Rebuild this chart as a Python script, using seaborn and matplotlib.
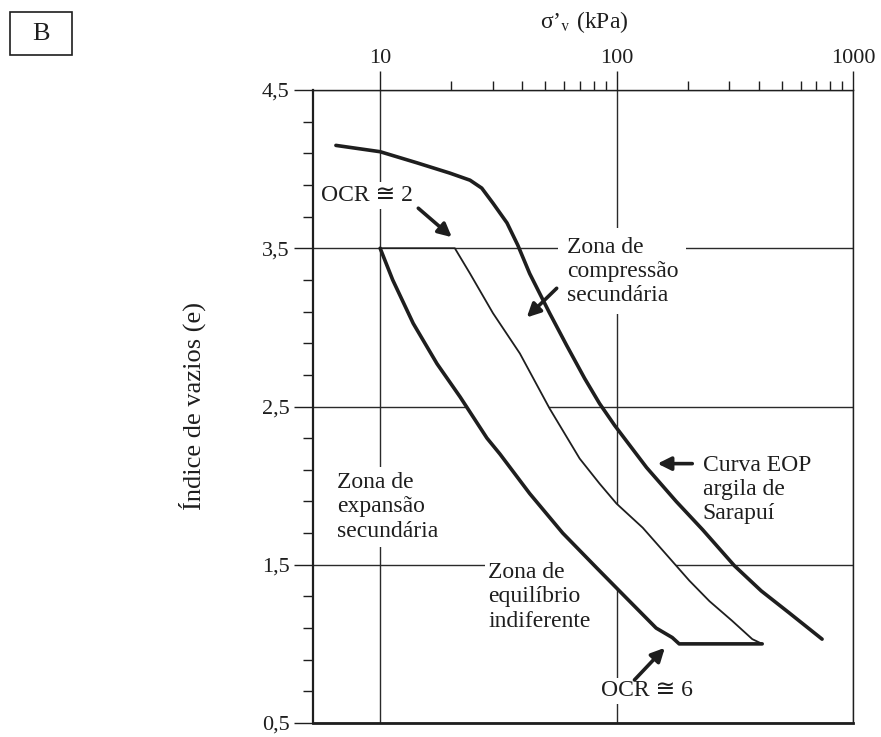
import numpy as np
import pandas as pd
import matplotlib
matplotlib.use("Agg")
import matplotlib.pyplot as plt
import seaborn as sns
from matplotlib.ticker import FixedLocator, NullFormatter
from matplotlib.patches import Rectangle

# ---------------- data ----------------
# EOP curve, Sarapuí clay
eop_sigma = [6.5, 10, 14.3, 19.7, 24.0, 26.9, 30.0, 34.4, 38.2, 42.9, 52.1,
             61.5, 73.3, 84.7, 98.2, 134, 179, 231, 315, 409, 537, 740]
eop_e = [4.15, 4.11, 4.04, 3.975, 3.93, 3.88, 3.785, 3.66, 3.52, 3.34, 3.09,
         2.886, 2.677, 2.519, 2.38, 2.114, 1.899, 1.722, 1.494, 1.335, 1.196, 1.03]

# OCR ~ 2 line (thin)
ocr2_sigma = [10, 20.7, 24.0, 30.0, 39.0, 52.1, 69.8, 84.7, 100, 129, 167, 203, 247, 308, 375, 413]
ocr2_e = [3.5, 3.5, 3.34, 3.09, 2.835, 2.487, 2.171, 2.013, 1.886, 1.734, 1.544, 1.40, 1.27, 1.146, 1.03, 1.0]

# OCR ~ 6 line (thick)
ocr6_sigma = [10, 11.3, 13.8, 17.4, 21.8, 28.3, 32.1, 42.9, 59.2, 82.4, 110, 147, 172, 184, 413]
ocr6_e = [3.5, 3.30, 3.025, 2.77, 2.56, 2.30, 2.20, 1.95, 1.70, 1.48, 1.29, 1.10, 1.04, 1.0, 1.0]

y_major = [0.5, 1.5, 2.5, 3.5, 4.5]
y_major_labels = ["0,5", "1,5", "2,5", "3,5", "4,5"]
y_minor = [0.7, 0.9, 1.1, 1.3, 1.7, 1.9, 2.1, 2.3, 2.7, 2.9, 3.1, 3.3, 3.7, 3.9, 4.1, 4.3]
x_major = [10, 100, 1000]
x_major_labels = ["10", "100", "1000"]
x_minor = [20, 30, 40, 50, 60, 70, 80, 90, 200, 300, 400, 500, 600, 700, 800, 900]

# ---------------- style ----------------
sns.set_theme(style="white")
plt.rcParams["font.family"] = ["Liberation Serif", "DejaVu Serif", "DejaVu Sans"]
plt.rcParams["mathtext.fontset"] = "stix"
INK = "#1e1e1e"
FAM = ["Liberation Serif", "DejaVu Sans"]

fig = plt.figure(figsize=(8.81, 7.37), dpi=100)
ax = fig.add_axes([313 / 881, 1 - 723 / 737, 540 / 881, 633 / 737])
ax.set_xscale("log")
ax.set_xlim(5.2, 1000)
ax.set_ylim(0.5, 4.5)
ax.set_axisbelow(True)

# band between the two OCR lines (white, hides grid)
band_x = list(ocr6_sigma) + list(ocr2_sigma[::-1])
band_y = list(ocr6_e) + list(ocr2_e[::-1])
ax.fill(band_x, band_y, color="white", zorder=1, lw=0)

df_eop = pd.DataFrame({"s": eop_sigma, "e": eop_e})
df_2 = pd.DataFrame({"s": ocr2_sigma, "e": ocr2_e})
df_6 = pd.DataFrame({"s": ocr6_sigma, "e": ocr6_e})
sns.lineplot(data=df_eop, x="s", y="e", sort=False, estimator=None, color=INK, lw=2.6, ax=ax, zorder=3)
sns.lineplot(data=df_2, x="s", y="e", sort=False, estimator=None, color=INK, lw=1.3, ax=ax, zorder=3)
sns.lineplot(data=df_6, x="s", y="e", sort=False, estimator=None, color=INK, lw=2.6, ax=ax, zorder=3)

# axes / ticks
ax.xaxis.tick_top()
ax.xaxis.set_major_locator(FixedLocator(x_major))
ax.xaxis.set_minor_locator(FixedLocator(x_minor))
ax.set_xticklabels(x_major_labels)
ax.xaxis.set_minor_formatter(NullFormatter())
ax.set_yticks(y_major)
ax.set_yticklabels(y_major_labels)
ax.yaxis.set_minor_locator(FixedLocator(y_minor))
ax.tick_params(axis="x", which="major", direction="out", length=14, width=1.0, color=INK,
               labelsize=16, pad=2, top=True, bottom=False, labelcolor=INK)
ax.tick_params(axis="x", which="minor", direction="out", length=6.5, width=1.0, color=INK,
               top=True, bottom=False)
ax.tick_params(axis="y", which="major", direction="out", length=14, width=1.0, color=INK,
               labelsize=16, pad=3, left=True, labelcolor=INK)
ax.tick_params(axis="y", which="minor", direction="out", length=7, width=1.0, color=INK, left=True)
ax.set_xlabel("")
ax.set_ylabel("Índice de vazios (e)", fontsize=19, color=INK)
ax.yaxis.set_label_coords(-0.198, 0.5)
ax.grid(True, which="major", color="#2a2a2a", lw=1.0)
for side, w in [("left", 1.6), ("bottom", 2.0), ("right", 1.0), ("top", 1.0)]:
    ax.spines[side].set_color(INK)
    ax.spines[side].set_linewidth(w)
    ax.spines[side].set_visible(True)

fig.text(584 / 881, 1 - 22 / 737, "σ’$_{\\mathrm{v}}$ (kPa)", ha="center", va="center",
         fontsize=17, color=INK)

# annotations
box = dict(facecolor="white", edgecolor="none", pad=2)
tk = dict(fontsize=17, color=INK, zorder=2, linespacing=1.2, family=FAM)
ax.text(8.81, 3.835, "OCR ≅ 2", ha="center", va="center", bbox=box, **tk)
ax.text(61.5, 3.354, "Zona de\ncompressão\nsecundária", ha="left", va="center",
        bbox=dict(facecolor="white", edgecolor="none", pad=6), **tk)
ax.text(231, 1.975, "Curva EOP\nargila de\nSarapuí", ha="left", va="center", **tk)
ax.text(6.59, 1.865, "Zona de\nexpansão\nsecundária", ha="left", va="center",
        bbox=dict(facecolor="white", edgecolor="none", pad=4), **tk)
ax.text(28.6, 1.297, "Zona de\nequilíbrio\nindiferente", ha="left", va="center", bbox=box, **tk)
ax.text(135, 0.703, "OCR ≅ 6", ha="center", va="center", bbox=box, **tk)

arr = dict(arrowstyle="-|>", lw=2.6, color=INK, mutation_scale=20, shrinkA=0, shrinkB=0)
ax.annotate("", xy=(20.1, 3.570), xytext=(14.5, 3.753), arrowprops=arr, zorder=4)
ax.annotate("", xy=(41.7, 3.063), xytext=(55.8, 3.247), arrowprops=arr, zorder=4)
ax.annotate("", xy=(149, 2.139), xytext=(209, 2.139), arrowprops=arr, zorder=4)
ax.annotate("", xy=(160, 0.975), xytext=(119, 0.772), arrowprops=arr, zorder=4)

# panel letter
fig.patches.append(Rectangle((10 / 881, 1 - 55 / 737), 62 / 881, 43 / 737, transform=fig.transFigure,
                             fill=False, edgecolor=INK, lw=1.2))
fig.text(41 / 881, 1 - 34 / 737, "B", ha="center", va="center", fontsize=19, color=INK)

fig.savefig("out.png", dpi=100, facecolor="white")
